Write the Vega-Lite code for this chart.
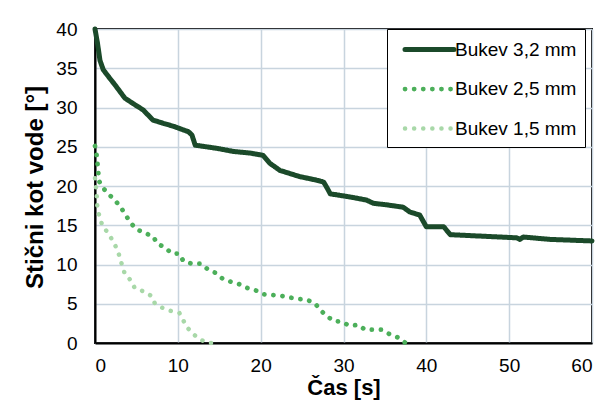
{
  "$schema": "https://vega.github.io/schema/vega-lite/v6.json",
  "width": 497,
  "height": 314,
  "autosize": {"type": "none"},
  "padding": {"left": 95, "top": 29, "right": 12, "bottom": 64},
  "background": "white",
  "config": {
    "font": "Liberation Sans",
    "view": {"stroke": "black", "strokeWidth": 2},
    "axis": {
      "gridColor": "#c8d4de",
      "gridWidth": 1.5,
      "gridOpacity": 1,
      "domainColor": "black",
      "domainWidth": 2,
      "ticks": false,
      "labelFontSize": 19,
      "labelColor": "black",
      "labelFont": "Liberation Sans",
      "titleFont": "Liberation Sans",
      "titleFontSize": 24,
      "titleFontWeight": "bold",
      "titleColor": "black"
    },
    "legend": {
      "strokeColor": "black",
      "fillColor": "white",
      "padding": 8,
      "symbolType": "M-2.45,0H2.45",
      "symbolSize": 400,
      "symbolOffset": 22,
      "rowPadding": 16.5,
      "labelFontSize": 19,
      "labelColor": "black",
      "labelFont": "Liberation Sans",
      "labelOffset": 13,
      "labelLimit": 300
    }
  },
  "data": {
    "values": [
      {"t": 0, "a": 40, "s": "Bukev 3,2 mm"},
      {"t": 0.3, "a": 38.2, "s": "Bukev 3,2 mm"},
      {"t": 0.6, "a": 36, "s": "Bukev 3,2 mm"},
      {"t": 1.0, "a": 34.8, "s": "Bukev 3,2 mm"},
      {"t": 1.8, "a": 33.7, "s": "Bukev 3,2 mm"},
      {"t": 2.4, "a": 32.9, "s": "Bukev 3,2 mm"},
      {"t": 3.6, "a": 31.2, "s": "Bukev 3,2 mm"},
      {"t": 4.6, "a": 30.5, "s": "Bukev 3,2 mm"},
      {"t": 5.8, "a": 29.7, "s": "Bukev 3,2 mm"},
      {"t": 7.0, "a": 28.4, "s": "Bukev 3,2 mm"},
      {"t": 8.2, "a": 28.0, "s": "Bukev 3,2 mm"},
      {"t": 9.5, "a": 27.6, "s": "Bukev 3,2 mm"},
      {"t": 11.3, "a": 26.9, "s": "Bukev 3,2 mm"},
      {"t": 11.7, "a": 26.5, "s": "Bukev 3,2 mm"},
      {"t": 12.1, "a": 25.2, "s": "Bukev 3,2 mm"},
      {"t": 14.7, "a": 24.8, "s": "Bukev 3,2 mm"},
      {"t": 16.7, "a": 24.4, "s": "Bukev 3,2 mm"},
      {"t": 18.7, "a": 24.2, "s": "Bukev 3,2 mm"},
      {"t": 20.3, "a": 23.9, "s": "Bukev 3,2 mm"},
      {"t": 21.1, "a": 22.9, "s": "Bukev 3,2 mm"},
      {"t": 22.3, "a": 22.0, "s": "Bukev 3,2 mm"},
      {"t": 24.7, "a": 21.2, "s": "Bukev 3,2 mm"},
      {"t": 26.5, "a": 20.8, "s": "Bukev 3,2 mm"},
      {"t": 27.6, "a": 20.5, "s": "Bukev 3,2 mm"},
      {"t": 28.1, "a": 19.6, "s": "Bukev 3,2 mm"},
      {"t": 28.4, "a": 19.0, "s": "Bukev 3,2 mm"},
      {"t": 30.8, "a": 18.6, "s": "Bukev 3,2 mm"},
      {"t": 32.8, "a": 18.2, "s": "Bukev 3,2 mm"},
      {"t": 33.6, "a": 17.8, "s": "Bukev 3,2 mm"},
      {"t": 35.2, "a": 17.6, "s": "Bukev 3,2 mm"},
      {"t": 37.2, "a": 17.3, "s": "Bukev 3,2 mm"},
      {"t": 38.0, "a": 16.7, "s": "Bukev 3,2 mm"},
      {"t": 38.6, "a": 16.5, "s": "Bukev 3,2 mm"},
      {"t": 39.2, "a": 16.3, "s": "Bukev 3,2 mm"},
      {"t": 40.0, "a": 14.8, "s": "Bukev 3,2 mm"},
      {"t": 42.1, "a": 14.8, "s": "Bukev 3,2 mm"},
      {"t": 42.9, "a": 13.8, "s": "Bukev 3,2 mm"},
      {"t": 46.9, "a": 13.6, "s": "Bukev 3,2 mm"},
      {"t": 50.9, "a": 13.4, "s": "Bukev 3,2 mm"},
      {"t": 51.3, "a": 13.2, "s": "Bukev 3,2 mm"},
      {"t": 51.7, "a": 13.5, "s": "Bukev 3,2 mm"},
      {"t": 54.9, "a": 13.2, "s": "Bukev 3,2 mm"},
      {"t": 60, "a": 13.0, "s": "Bukev 3,2 mm"},
      {"t": 0, "a": 25.1, "s": "Bukev 2,5 mm"},
      {"t": 0.2, "a": 23.9, "s": "Bukev 2,5 mm"},
      {"t": 0.3, "a": 22.9, "s": "Bukev 2,5 mm"},
      {"t": 0.4, "a": 21.7, "s": "Bukev 2,5 mm"},
      {"t": 0.5, "a": 20.6, "s": "Bukev 2,5 mm"},
      {"t": 1.0, "a": 19.7, "s": "Bukev 2,5 mm"},
      {"t": 1.6, "a": 19.0, "s": "Bukev 2,5 mm"},
      {"t": 2.4, "a": 18.2, "s": "Bukev 2,5 mm"},
      {"t": 3.1, "a": 17.3, "s": "Bukev 2,5 mm"},
      {"t": 4.3, "a": 15.3, "s": "Bukev 2,5 mm"},
      {"t": 5.0, "a": 14.5, "s": "Bukev 2,5 mm"},
      {"t": 6.0, "a": 14.0, "s": "Bukev 2,5 mm"},
      {"t": 7.0, "a": 13.6, "s": "Bukev 2,5 mm"},
      {"t": 7.5, "a": 12.7, "s": "Bukev 2,5 mm"},
      {"t": 8.5, "a": 12.1, "s": "Bukev 2,5 mm"},
      {"t": 9.3, "a": 11.4, "s": "Bukev 2,5 mm"},
      {"t": 10.1, "a": 11.4, "s": "Bukev 2,5 mm"},
      {"t": 10.7, "a": 10.4, "s": "Bukev 2,5 mm"},
      {"t": 11.7, "a": 10.1, "s": "Bukev 2,5 mm"},
      {"t": 12.8, "a": 10.1, "s": "Bukev 2,5 mm"},
      {"t": 13.6, "a": 9.4, "s": "Bukev 2,5 mm"},
      {"t": 14.6, "a": 8.9, "s": "Bukev 2,5 mm"},
      {"t": 15.4, "a": 8.2, "s": "Bukev 2,5 mm"},
      {"t": 16.4, "a": 7.8, "s": "Bukev 2,5 mm"},
      {"t": 17.4, "a": 7.5, "s": "Bukev 2,5 mm"},
      {"t": 18.4, "a": 7.0, "s": "Bukev 2,5 mm"},
      {"t": 19.4, "a": 6.7, "s": "Bukev 2,5 mm"},
      {"t": 20.4, "a": 6.2, "s": "Bukev 2,5 mm"},
      {"t": 21.5, "a": 6.1, "s": "Bukev 2,5 mm"},
      {"t": 22.5, "a": 6.0, "s": "Bukev 2,5 mm"},
      {"t": 23.5, "a": 5.8, "s": "Bukev 2,5 mm"},
      {"t": 24.6, "a": 5.6, "s": "Bukev 2,5 mm"},
      {"t": 25.6, "a": 5.5, "s": "Bukev 2,5 mm"},
      {"t": 26.6, "a": 5.0, "s": "Bukev 2,5 mm"},
      {"t": 27.2, "a": 4.2, "s": "Bukev 2,5 mm"},
      {"t": 27.8, "a": 3.6, "s": "Bukev 2,5 mm"},
      {"t": 28.8, "a": 2.8, "s": "Bukev 2,5 mm"},
      {"t": 29.8, "a": 2.7, "s": "Bukev 2,5 mm"},
      {"t": 30.7, "a": 2.2, "s": "Bukev 2,5 mm"},
      {"t": 31.8, "a": 2.3, "s": "Bukev 2,5 mm"},
      {"t": 32.6, "a": 1.7, "s": "Bukev 2,5 mm"},
      {"t": 33.6, "a": 1.7, "s": "Bukev 2,5 mm"},
      {"t": 34.6, "a": 1.7, "s": "Bukev 2,5 mm"},
      {"t": 35.6, "a": 1.1, "s": "Bukev 2,5 mm"},
      {"t": 36.6, "a": 0.7, "s": "Bukev 2,5 mm"},
      {"t": 37.5, "a": 0, "s": "Bukev 2,5 mm"},
      {"t": 0, "a": 21.0, "s": "Bukev 1,5 mm"},
      {"t": 0.2, "a": 19.0, "s": "Bukev 1,5 mm"},
      {"t": 0.3, "a": 17.0, "s": "Bukev 1,5 mm"},
      {"t": 0.9, "a": 14.9, "s": "Bukev 1,5 mm"},
      {"t": 1.6, "a": 14.0, "s": "Bukev 1,5 mm"},
      {"t": 2.2, "a": 12.9, "s": "Bukev 1,5 mm"},
      {"t": 2.7, "a": 11.9, "s": "Bukev 1,5 mm"},
      {"t": 3.0, "a": 10.9, "s": "Bukev 1,5 mm"},
      {"t": 3.3, "a": 9.8, "s": "Bukev 1,5 mm"},
      {"t": 3.6, "a": 8.8, "s": "Bukev 1,5 mm"},
      {"t": 4.3, "a": 8.0, "s": "Bukev 1,5 mm"},
      {"t": 4.8, "a": 7.0, "s": "Bukev 1,5 mm"},
      {"t": 5.8, "a": 6.6, "s": "Bukev 1,5 mm"},
      {"t": 6.8, "a": 6.0, "s": "Bukev 1,5 mm"},
      {"t": 7.2, "a": 5.1, "s": "Bukev 1,5 mm"},
      {"t": 8.1, "a": 4.5, "s": "Bukev 1,5 mm"},
      {"t": 9.1, "a": 4.1, "s": "Bukev 1,5 mm"},
      {"t": 10.2, "a": 3.8, "s": "Bukev 1,5 mm"},
      {"t": 10.7, "a": 2.8, "s": "Bukev 1,5 mm"},
      {"t": 11.2, "a": 1.9, "s": "Bukev 1,5 mm"},
      {"t": 11.8, "a": 1.2, "s": "Bukev 1,5 mm"},
      {"t": 12.6, "a": 0.5, "s": "Bukev 1,5 mm"},
      {"t": 13.6, "a": 0, "s": "Bukev 1,5 mm"},
      {"t": 14.6, "a": 0, "s": "Bukev 1,5 mm"}
    ]
  },
  "mark": {"type": "line", "strokeCap": "round", "strokeJoin": "round"},
  "encoding": {
    "x": {
      "field": "t",
      "type": "quantitative",
      "scale": {"domain": [0, 60], "nice": false},
      "axis": {
        "values": [0, 10, 20, 30, 40, 50, 60],
        "title": "Čas [s]",
        "labelPadding": 13,
        "titleFontSize": 22,
        "titleBaseline": "alphabetic",
        "titleY": 51
      }
    },
    "y": {
      "field": "a",
      "type": "quantitative",
      "scale": {"domain": [0, 40], "nice": false},
      "axis": {
        "values": [0, 5, 10, 15, 20, 25, 30, 35, 40],
        "title": "Stični kot vode [°]",
        "labelPadding": 18,
        "titleBaseline": "alphabetic",
        "titleX": -53,
        "titleY": 158
      }
    },
    "color": {
      "field": "s",
      "type": "nominal",
      "scale": {
        "domain": ["Bukev 3,2 mm", "Bukev 2,5 mm", "Bukev 1,5 mm"],
        "range": ["#1b4a2a", "#4caf5a", "#a8d8a8"]
      },
      "legend": {"title": null, "orient": "none", "legendX": 292, "legendY": 0, "encoding": {"symbols": {"strokeCap": {"value": "round"}}}}
    },
    "strokeDash": {
      "field": "s",
      "type": "nominal",
      "scale": {
        "domain": ["Bukev 3,2 mm", "Bukev 2,5 mm", "Bukev 1,5 mm"],
        "range": [[1, 0], [0.1, 9], [0.1, 9]]
      },
      "legend": {"title": null, "orient": "none", "legendX": 292, "legendY": 0, "encoding": {"symbols": {"strokeCap": {"value": "round"}}}}
    },
    "strokeWidth": {
      "field": "s",
      "type": "nominal",
      "scale": {
        "domain": ["Bukev 3,2 mm", "Bukev 2,5 mm", "Bukev 1,5 mm"],
        "range": [5, 4.5, 4.5]
      },
      "legend": {"title": null, "orient": "none", "legendX": 292, "legendY": 0, "encoding": {"symbols": {"strokeCap": {"value": "round"}}}}
    }
  }
}
